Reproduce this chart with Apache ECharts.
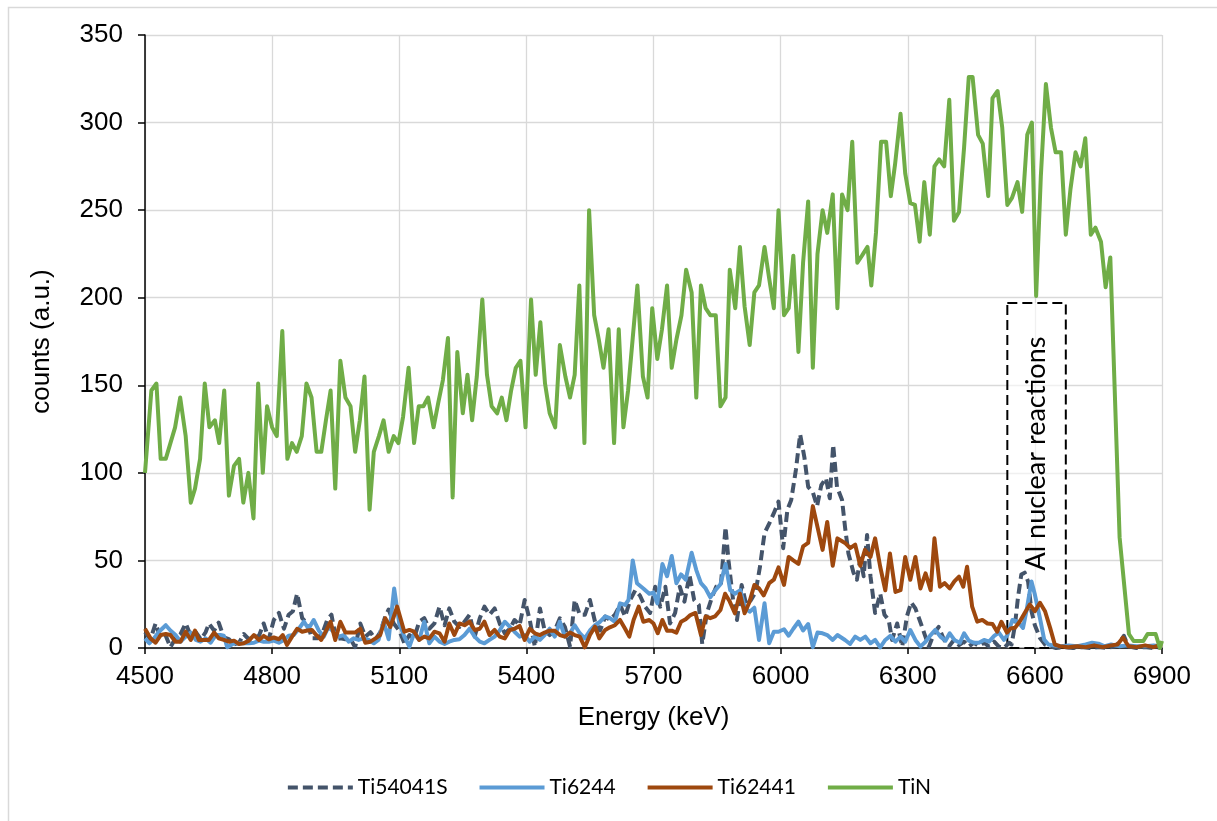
<!DOCTYPE html>
<html>
<head>
<meta charset="utf-8">
<script src="https://cdn.jsdelivr.net/npm/echarts@6/dist/echarts.min.js"></script>
<style>
html,body{margin:0;padding:0;background:#fff;}
#chart{width:1217px;height:821px;}
</style>
</head>
<body>
<div id="chart"></div>
<script>
// ---- axis ticks ----
const xTicks = [4500, 4800, 5100, 5400, 5700, 6000, 6300, 6600, 6900];
const yTicks = [0, 50, 100, 150, 200, 250, 300, 350];
const seriesNames = ['Ti54041S', 'Ti6244', 'Ti62441', 'TiN'];
const seriesColors = ['#44546A', '#5B9BD5', '#9E480E', '#70AD47'];

// ---- TiN ----
const tinE = [4500,4515,4527,4537,4549,4560,4571,4583,4596,4608,4618,4630,4641,4652,4665,4675,4687,4698,4710,4722,4732,4744,4756,4767,4778,4788,4800,4811,4824,4836,4847,4858,4870,4881,4893,4905,4916,4927,4938,4949,4961,4973,4985,4996,5007,5018,5030,5040,5052,5063,5075,5087,5098,5109,5122,5135,5146,5157,5168,5181,5192,5203,5215,5226,5237,5250,5261,5272,5283,5296,5307,5318,5331,5342,5353,5364,5375,5386,5398,5411,5422,5433,5444,5455,5468,5479,5492,5503,5514,5525,5537,5548,5560,5571,5582,5594,5607,5618,5629,5640,5651,5662,5675,5686,5697,5709,5720,5732,5743,5754,5766,5777,5790,5801,5812,5823,5834,5847,5858,5870,5880,5893,5904,5915,5927,5938,5949,5962,5973,5984,5995,6008,6019,6030,6042,6053,6065,6076,6087,6099,6110,6123,6134,6145,6158,6169,6181,6192,6205,6214,6225,6237,6249,6260,6270,6283,6294,6306,6317,6328,6339,6352,6363,6374,6386,6398,6409,6421,6433,6444,6453,6466,6477,6490,6500,6512,6523,6535,6546,6559,6570,6582,6593,6603,6614,6626,6638,6649,6662,6673,6684,6696,6708,6719,6732,6743,6756,6767,6778,6800,6822,6833,6856,6866,6885,6895,6900];
const tinCounts = [100,147,151,108,108,117,126,143,121,83,91,108,151,126,130,117,147,87,104,108,83,100,74,151,100,138,126,121,181,108,117,112,121,151,143,112,112,130,147,91,164,143,138,112,130,155,79,112,121,130,112,121,117,132,160,117,138,138,143,126,140,153,177,86,169,134,156,130,155,199,156,138,134,143,130,147,160,164,126,199,156,186,151,134,126,173,155,143,156,207,117,250,190,176,160,182,117,182,126,147,177,207,155,143,194,165,182,207,160,176,190,216,203,143,207,194,190,190,138,143,216,194,229,195,173,203,207,229,211,194,250,190,194,224,169,220,255,160,225,250,237,259,194,259,250,289,220,224,229,207,237,289,289,258,276,305,271,254,253,232,266,236,275,279,275,313,244,249,286,326,326,293,288,258,314,318,297,253,257,266,249,293,300,201,269,322,297,283,283,236,262,283,275,291,236,240,232,206,223,63,8,4,4,8,8,0,4];

// ---- Ti54041S ----
const ti54E = [4500,4513,4525,4537,4549,4560,4572,4584,4596,4608,4620,4632,4643,4651,4663,4674,4686,4698,4710,4722,4733,4745,4757,4769,4780,4792,4804,4816,4828,4839,4849,4859,4871,4883,4894,4906,4918,4930,4940,4951,4961,4973,4985,4996,5008,5020,5032,5044,5055,5067,5075,5087,5100,5112,5124,5135,5147,5159,5171,5183,5195,5207,5218,5230,5242,5254,5266,5278,5290,5301,5313,5325,5337,5349,5361,5372,5384,5396,5408,5420,5432,5443,5455,5467,5479,5491,5503,5514,5526,5538,5550,5562,5574,5586,5597,5609,5621,5633,5645,5657,5668,5680,5692,5704,5716,5728,5739,5751,5762,5773,5785,5796,5807,5815,5826,5838,5848,5859,5870,5877,5888,5897,5908,5919,5930,5941,5951,5962,5973,5984,5995,6006,6016,6025,6036,6046,6056,6065,6076,6086,6096,6107,6116,6124,6133,6145,6152,6160,6172,6180,6188,6196,6204,6212,6223,6235,6245,6255,6263,6275,6287,6298,6308,6318,6328,6339,6350,6362,6373,6385,6397,6409,6421,6433,6444,6456,6468,6480,6492,6504,6515,6527,6539,6545,6553,6560,6568,6576,6584,6592,6600,6612,6624,6636,6650,6670,6690,6710,6730,6750,6770,6790,6802,6810,6820,6840,6860,6880,6900];
const ti54Counts = [9,5,14,5.5,7,0.5,5.5,8,14,7,9,5,9,14,10,14.5,6,5,2,3,8,5,6,7,14,5,16,20,11,19,21,31,17,14,5.5,5.5,8,16,19,5,5.5,5,5,0.5,14,6.5,9,5,9,18,22,14,10,2.7,7.4,5.5,15,17,11,14,23.6,13,22.6,15,12,15,19,6.5,17,23.6,19,22.6,14,8.4,11,16,13,27.4,16,0.8,22.6,10,7.4,10,17,12,0.8,27.4,19,19,27.4,15,10,18,16,19,24.6,18,27.4,33,30,23.6,20,35,23.6,35,14,20,35,26.5,41.7,27.4,24.6,2.3,20,29,35,36,69,50,27,16,36,24.6,27.4,32,46,65.5,71,77,83.6,57,79,84.5,101.6,122,109,92,89,81,93,97,85.5,116,92,84.5,69,54,43,39,51,41,64.5,41,20,31,19,16,4.6,14,0.8,18,26,22.6,16,8.4,0.8,8.4,12,5,0.8,4.6,1.7,3.6,0.8,3,1.1,3,0.8,3.6,0.8,0,3,2,13,28.6,42,43,38,21,13,5.7,2,1,0,0.5,0,0.5,0,0.5,0,1,4,7,1,0,0.5,0,0.5];

// ---- Ti6244 ----
const ti6244E = [4500,4510,4521,4533,4549,4560,4572,4584,4596,4608,4620,4631,4643,4655,4667,4678,4686,4694,4710,4722,4733,4745,4757,4769,4780,4792,4804,4816,4828,4839,4851,4863,4875,4886,4898,4910,4922,4933,4945,4957,4969,4981,4992,5004,5016,5028,5040,5051,5063,5075,5088,5100,5112,5124,5135,5147,5159,5171,5183,5195,5207,5218,5230,5242,5254,5266,5278,5290,5301,5313,5325,5337,5349,5361,5372,5384,5396,5408,5420,5432,5443,5455,5467,5479,5491,5503,5514,5526,5538,5550,5562,5574,5586,5597,5609,5621,5633,5641,5651,5661,5676,5690,5700,5709,5721,5732,5743,5754,5765,5776,5790,5801,5812,5823,5834,5845,5858,5870,5881,5892,5905,5916,5927,5938,5949,5962,5973,5984,5995,6008,6019,6030,6042,6053,6065,6076,6087,6099,6110,6123,6134,6143,6152,6164,6176,6188,6200,6212,6223,6235,6247,6259,6271,6283,6294,6306,6318,6330,6342,6354,6365,6377,6389,6399,6410,6423,6433,6444,6456,6468,6480,6492,6504,6515,6527,6535,6547,6560,6572,6580,6592,6600,6612,6622,6632,6643,6660,6680,6700,6720,6735,6750,6765,6780,6800,6820,6840,6860,6880,6900];
const ti6244Counts = [5.5,2.7,5.5,9.3,13,10,7.4,3.6,6.5,8.8,4.6,3.6,5.5,3,7.4,7.4,7,0.4,2.7,2.7,2.7,2.7,3,4.2,3.6,3.6,4.2,3,4.6,7,7.4,11,15,11,16,10,6.5,12,9.3,6.5,7.4,3.6,5.5,4.6,5.5,4.6,2.7,4.6,15,5,34,14,6.5,0.8,8.4,4.6,15,2.7,6.5,3.6,2.3,3.6,4.6,5,7.4,11,6.5,3.6,2.7,4.6,6.5,10,15,12,9.3,6.5,7.4,3.6,6.5,4.6,7.4,11,6.5,15,6.5,8.4,13,8.4,5.5,10,13,15,18,17,15,25.5,24.6,27.4,50,37,34,31,31.6,25.5,48,41,52.5,37,42,39,54.4,44.5,37,34,29,32.7,36.4,48,33,31,33,22.6,20.7,23,4.6,25.5,2.7,9.3,9.3,10.7,7,11,15,10,13.7,0.5,8.8,8.4,7.4,4.6,7.4,6,4.6,2.3,6.5,4.6,6.5,2.7,4.6,0.4,4.6,6.9,3.6,6.5,3.6,10.3,4.6,0.8,3.6,7.4,10.3,6.5,4.2,8.4,4.6,3,8.4,4.2,3,3,4.6,3.6,6.9,8.8,4.6,7.4,16,15,11.5,21,38,30.5,17,4.8,2,1.5,1,1.5,1,2,3,2.5,1,2,1,1.5,1,1,1.5,1];

// ---- Ti62441 ----
const ti62441E = [4500,4513,4525,4537,4549,4560,4572,4584,4596,4608,4618,4627,4639,4651,4663,4674,4686,4698,4710,4722,4733,4745,4757,4769,4780,4792,4804,4816,4825,4835,4847,4859,4871,4883,4894,4904,4916,4926,4938,4949,4961,4973,4985,4996,5008,5020,5032,5044,5055,5067,5079,5095,5112,5124,5135,5147,5159,5171,5183,5195,5207,5218,5230,5242,5254,5266,5278,5290,5301,5313,5325,5337,5349,5361,5372,5384,5396,5408,5420,5432,5443,5455,5467,5479,5491,5503,5514,5526,5538,5550,5562,5572,5586,5597,5609,5621,5633,5643,5653,5665,5676,5690,5700,5710,5721,5732,5743,5754,5765,5776,5787,5799,5812,5823,5834,5845,5858,5869,5880,5892,5904,5915,5926,5938,5949,5960,5973,5984,5995,6008,6019,6030,6042,6053,6065,6076,6088,6099,6110,6123,6134,6145,6152,6164,6176,6188,6199,6212,6223,6235,6247,6258,6271,6283,6294,6306,6318,6330,6342,6354,6363,6376,6387,6399,6410,6421,6431,6440,6452,6464,6476,6488,6500,6511,6521,6534,6543,6553,6564,6576,6588,6600,6612,6624,6636,6647,6659,6679,6700,6720,6740,6760,6780,6795,6808,6821,6840,6860,6880,6900];
const ti62441Counts = [11,5.5,3,7.4,8,7.4,3.6,3.6,9.3,4.6,10,4.6,4.6,4.6,8.8,5.5,4.6,3.6,4.2,2.3,2.7,4.2,7.4,4.6,6.9,5,6,5,7.4,1.7,6.5,11,9.3,10,10.3,7.4,4.6,9.3,15,4.6,15,8.8,8.8,8.8,11,3,3.6,5.5,7.4,17,12,23.6,9.3,10.3,9.3,4.6,6.5,5.5,9.3,8.4,3.6,14,7.4,14,13,15,10.3,11,15,7.4,10.3,6.5,5.5,10.3,11,12.6,4.6,11,8.4,7.4,8.8,9.9,9.9,7.4,6.5,8.8,7.4,6.5,0.4,7.4,12.2,5.5,10.3,11.8,13,16,11,6.5,16,23.6,15,16,14,8.4,16,9.9,9.9,8.8,15,16.4,18.8,20,7.4,18,17,18,21.7,31,26.5,19.8,31,19.8,26,36,34,30,37,39,46,36,52,50,48,58,60,81,68,56,72,47,62.6,61,60,57,59,47,56,52,62.6,46.4,33,54,32,33,52,39,52,34,42.6,33,62.6,35,37,34,38,40.7,35,46.4,23.6,15,16,14,13.7,9.3,15,8.8,11.2,11.5,15,20,24.8,21,25.8,21,11.5,2,1,0.4,1,0.5,1.5,0.5,1.5,2,6,1,0.5,1.5,0.5,2];

// ---- annotation box (data units: energy range, count range) ----
const boxEnergy = [6535, 6673];
const boxCounts = [0, 197];
const boxLabel = 'Al nuclear reactions';

function pairs(E, C) { return E.map((e, i) => [e, C[i]]); }

const tickFont = 'Liberation Sans, Arial, sans-serif';
const LW = 4;
const lineSeries = [
  { E: ti54E, C: ti54Counts, dash: [10, 5] },
  { E: ti6244E, C: ti6244Counts, dash: 'solid' },
  { E: ti62441E, C: ti62441Counts, dash: 'solid' },
  { E: tinE, C: tinCounts, dash: 'solid' }
].map((s, i) => ({
  name: seriesNames[i],
  type: 'line',
  data: pairs(s.E, s.C),
  symbol: 'none',
  showSymbol: false,
  z: i === 3 ? 5 : 2,
  lineStyle: { color: seriesColors[i], width: LW, type: s.dash, cap: 'butt', join: 'round' },
  itemStyle: { color: seriesColors[i] },
  animation: false
}));

const chart = echarts.init(document.getElementById('chart'), null, { renderer: 'canvas' });
chart.setOption({
  backgroundColor: '#fff',
  animation: false,
  graphic: [{
    type: 'rect', left: 6, top: 5, silent: true,
    shape: { width: 1300, height: 900 },
    style: { fill: 'none', stroke: '#d9d9d9', lineWidth: 1.5 }
  }],
  grid: { left: 145, right: 55, top: 35, bottom: 173, containLabel: false },
  legend: {
    data: seriesNames,
    left: 'center',
    top: 772,
    itemWidth: 65,
    itemHeight: 14,
    itemGap: 30,
    itemStyle: { opacity: 0, borderWidth: 0 },
    lineStyle: { width: LW },
    textStyle: { fontFamily: 'Lato, Carlito, sans-serif', fontSize: 21, color: '#000' }
  },
  xAxis: {
    type: 'value',
    min: xTicks[0], max: xTicks[xTicks.length - 1], interval: 300,
    name: 'Energy (keV)', nameLocation: 'middle', nameGap: 57,
    nameTextStyle: { fontFamily: tickFont, fontSize: 26, color: '#000' },
    axisLine: { show: true, onZero: false, lineStyle: { color: '#000', width: 1.5 } },
    axisTick: { show: true, inside: false, length: 6, lineStyle: { color: '#000', width: 1.5 } },
    axisLabel: { fontFamily: tickFont, fontSize: 26, color: '#000', margin: 16, formatter: v => String(v) },
    splitLine: { show: true, lineStyle: { color: '#d9d9d9', width: 1.3 } }
  },
  yAxis: {
    type: 'value',
    min: yTicks[0], max: yTicks[yTicks.length - 1], interval: 50,
    name: 'counts (a.u.)', nameLocation: 'middle', nameGap: 90, nameRotate: 90,
    nameTextStyle: { fontFamily: tickFont, fontSize: 26, color: '#000' },
    axisLine: { show: true, lineStyle: { color: '#000', width: 1.5 } },
    axisTick: { show: true, inside: false, length: 7, lineStyle: { color: '#000', width: 1.5 } },
    axisLabel: { fontFamily: tickFont, fontSize: 26, color: '#000', margin: 22, formatter: v => String(v) },
    splitLine: { show: true, lineStyle: { color: '#d9d9d9', width: 1.3 } }
  },
  series: lineSeries.concat([{
    name: 'box',
    type: 'line',
    data: [],
    z: 4,
    silent: true,
    markArea: {
      silent: true,
      itemStyle: {
        color: 'rgba(255,255,255,0.6)',
        borderColor: '#000', borderWidth: 2, borderType: [10, 5]
      },
      label: {
        show: true, position: 'inside', rotate: 90,
        formatter: boxLabel,
        fontFamily: 'Lato, Carlito, sans-serif', fontSize: 27, color: '#000',
        offset: [22, 0]
      },
      data: [[{ xAxis: boxEnergy[0], yAxis: boxCounts[1] }, { xAxis: boxEnergy[1], yAxis: boxCounts[0] }]]
    }
  }])
});
</script>
</body>
</html>
